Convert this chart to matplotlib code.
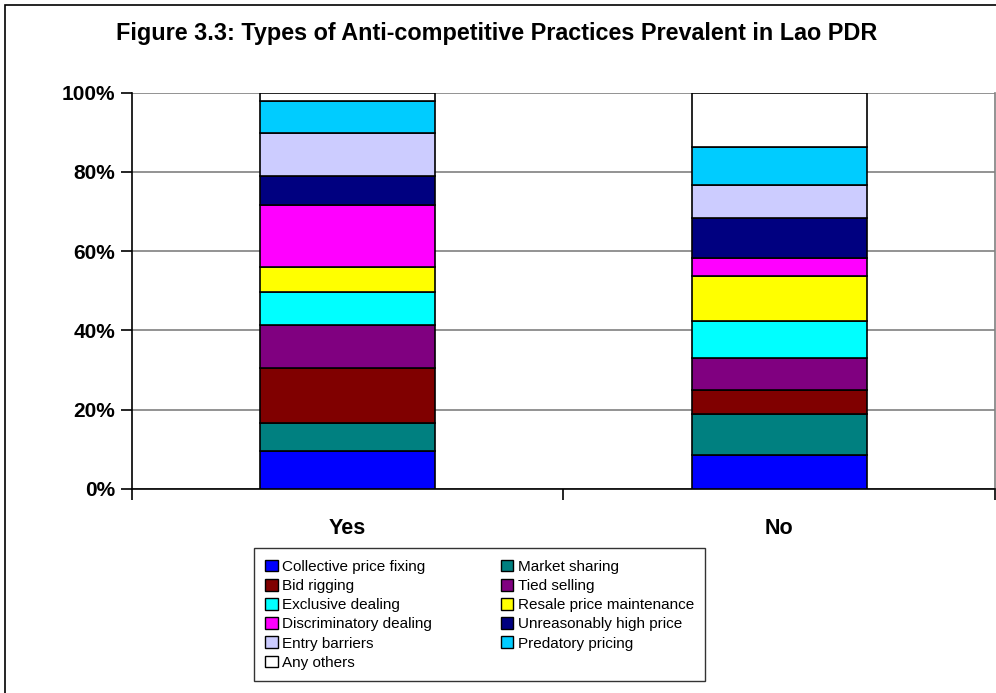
import matplotlib.pyplot as plt
from matplotlib.patches import Rectangle, Patch
from matplotlib.ticker import FixedLocator, PercentFormatter

plt.rcParams['font.family'] = ['Liberation Sans', 'DejaVu Sans']

# --- data (percent shares) ---
groups = ["Yes", "No"]
practices = [
    "Collective price fixing", "Market sharing", "Bid rigging", "Tied selling",
    "Exclusive dealing", "Resale price maintenance", "Discriminatory dealing",
    "Unreasonably high price", "Entry barriers", "Predatory pricing", "Any others",
]
share_yes = [9.6, 7.0, 13.9, 11.0, 8.2, 6.3, 15.6, 7.5, 10.8, 8.1, 2.0]
share_no = [8.7, 10.3, 6.0, 8.0, 9.5, 11.2, 4.7, 10.1, 8.3, 9.6, 13.6]
colors = ["#0000FF", "#008080", "#800000", "#800080", "#00FFFF", "#FFFF00",
          "#FF00FF", "#000080", "#CCCCFF", "#00CCFF", "#FFFFFF"]

fig = plt.figure(figsize=(9.96, 6.93), dpi=100)
ax = fig.add_axes([0.1325, 0.2944, 0.8665, 0.5718])

# stacked bars
x = [0, 1]
bottoms = [0.0, 0.0]
for i, name in enumerate(practices):
    vals = [share_yes[i], share_no[i]]
    ax.bar(x, vals, 0.405, bottom=bottoms, color=colors[i],
           edgecolor="black", linewidth=1.2, zorder=3, label=name)
    bottoms = [bottoms[0] + vals[0], bottoms[1] + vals[1]]

ax.set_xlim(-0.5, 1.5)
ax.set_ylim(0, 100)
ax.set_yticks([0, 20, 40, 60, 80, 100])
ax.yaxis.set_major_formatter(PercentFormatter(decimals=0))
ax.grid(axis="y", color="#808080", linewidth=1.2, zorder=0)

# category separators as major ticks, names as minor ticks
ax.xaxis.set_major_locator(FixedLocator([-0.5, 0.5, 1.5]))
ax.set_xticklabels([])
ax.xaxis.set_minor_locator(FixedLocator(x))
ax.set_xticks(x, groups, minor=True)
ax.tick_params(axis="x", which="minor", length=0, pad=21,
               labelsize=15.5)
ax.tick_params(axis="x", which="major", length=8, width=1.2, color="black")
ax.tick_params(axis="y", length=8, width=1.2, pad=4, labelsize=15)
for lbl in ax.get_xticklabels(minor=True) + ax.get_yticklabels():
    lbl.set_fontweight("bold")

for side in ["left", "bottom"]:
    ax.spines[side].set_color("black")
    ax.spines[side].set_linewidth(1.2)
ax.spines["top"].set_visible(False)
ax.spines["right"].set_color("#808080")
ax.spines["right"].set_linewidth(1.2)

fig.text(0.499, 0.952, "Figure 3.3: Types of Anti-competitive Practices Prevalent in Lao PDR",
         ha="center", va="center", fontsize=16.8, fontweight="bold")

# legend filled row by row (two columns)
handles = [Patch(facecolor=c, edgecolor="black", linewidth=1) for c in colors]
order = [0, 2, 4, 6, 8, 10, 1, 3, 5, 7, 9]
leg = fig.legend([handles[k] for k in order], [practices[k] for k in order],
                 ncol=2, loc="upper left", bbox_to_anchor=(0.255, 0.209),
                 fontsize=11, frameon=True, fancybox=False, shadow=False,
                 edgecolor="black", handlelength=0.8, handleheight=0.8,
                 handletextpad=0.3, labelspacing=0.33, columnspacing=4.5,
                 borderpad=0.75, borderaxespad=0)
leg.get_frame().set_linewidth(1)

# outer chart border
fig.add_artist(Rectangle((0.005, -0.1), 1.2, 1.1 - 0.0072, transform=fig.transFigure,
                         fill=False, edgecolor="black", linewidth=1.2))

fig.savefig("out.png", dpi=100)
